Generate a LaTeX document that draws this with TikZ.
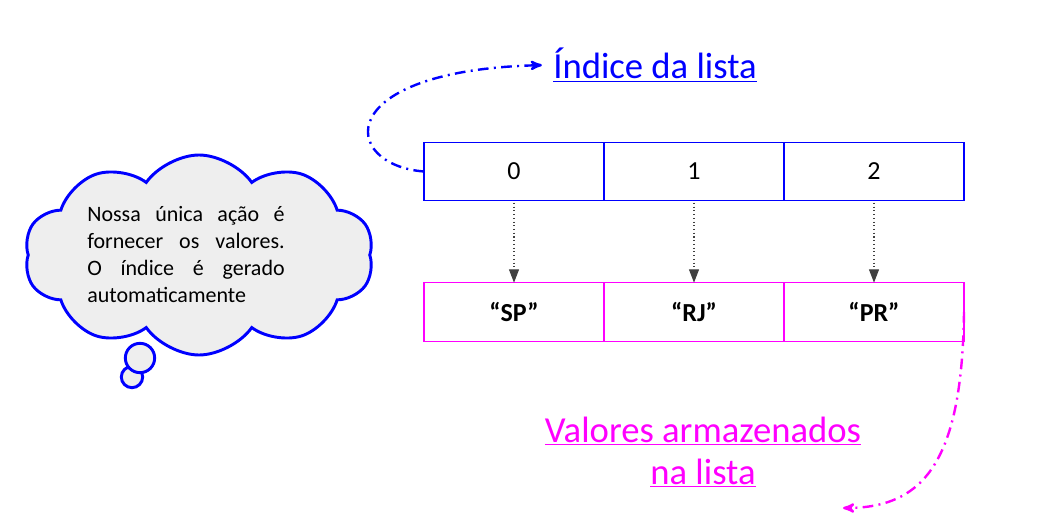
\documentclass[tikz,border=0pt]{standalone}
\usepackage{fontspec}
\setmainfont{Carlito}
\usepackage{tikz}
\usetikzlibrary{positioning}
\usetikzlibrary{arrows,arrows.meta,shapes,calc}
\usetikzlibrary{shapes.symbols}

\definecolor{idxblue}{RGB}{0,0,255}
\definecolor{valpink}{RGB}{255,0,255}
\definecolor{arrgray}{RGB}{64,64,64}
\definecolor{cloudfill}{RGB}{238,238,238}

\begin{document}
\begin{tikzpicture}[x=0.75pt,y=-0.75pt]
\tikzstyle{idxcell}=[draw=idxblue,line width=0.8pt,minimum width=135pt,minimum height=44pt,inner sep=0pt,outer sep=0pt,font=\fontsize{19.5}{22}\selectfont]
\tikzstyle{valcell}=[draw=valpink,line width=0.8pt,minimum width=135pt,minimum height=44pt,inner sep=0pt,outer sep=0pt,font=\fontsize{19.5}{22}\selectfont\bfseries]
\tikzstyle{fetch}=[draw=arrgray,dotted,line width=0.8pt,-{Triangle[width=7.5pt,length=10pt]}]
\tikzstyle{note}=[dash pattern=on 8pt off 4pt on 1.5pt off 4pt,line width=1.8pt,-stealth']
\tikzstyle{bubble}=[draw=idxblue,fill=cloudfill,line width=2.2pt]

\useasboundingbox (0,0) rectangle (1052,531);

% lista: indices e valores
\node[idxcell] (idx0) at (514,171.5) {0};
\node[idxcell,right=0pt of idx0] (idx1) {1};
\node[idxcell,right=0pt of idx1] (idx2) {2};
\node[valcell] (val0) at (514,312) {``SP''};
\node[valcell,right=0pt of val0] (val1) {``RJ''};
\node[valcell,right=0pt of val1] (val2) {``PR''};
\draw[fetch] ($(idx0.south)+(0,2)$) -- (val0.north);
\draw[fetch] ($(idx1.south)+(0,2)$) -- (val1.north);
\draw[fetch] ($(idx2.south)+(0,2)$) -- (val2.north);

% legendas
\node[text=idxblue,font=\fontsize{27.5}{31.5}\selectfont] (idxlabel) at (655,65) {\underline{Índice da lista}};
\node[text=valpink,align=center,font=\fontsize{27.5}{31.5}\selectfont] (vallabel) at (703,452) {\underline{Valores armazenados}\\\underline{na lista}};
\coordinate (valend) at (843,508);
\draw[note,draw=idxblue,shorten >=5pt] (idx0.west) .. controls (340,165) and (330,70) .. (idxlabel.west);
\draw[note,draw=valpink] (val2.east) .. controls (962,460) and (925,508) .. (valend);

% nuvem
\node[bubble,circle,minimum size=16pt,inner sep=0pt] (bubsmall) at (132,377) {};
\node[bubble,circle,minimum size=22pt,inner sep=0pt] (bubbig) at (140,358) {};
\node[bubble,cloud,cloud puffs=10,cloud puff arc=110,aspect=1.7,minimum width=262pt,minimum height=150pt] (cloud) at (199,255) {};
\node[text width=148pt,align=justify,font=\fontsize{16.5}{20.25}\selectfont] (cloudtext) at (186,255) {Nossa única ação é\linebreak fornecer os valores.\linebreak O índice é gerado\linebreak automaticamente};
\end{tikzpicture}
\end{document}
